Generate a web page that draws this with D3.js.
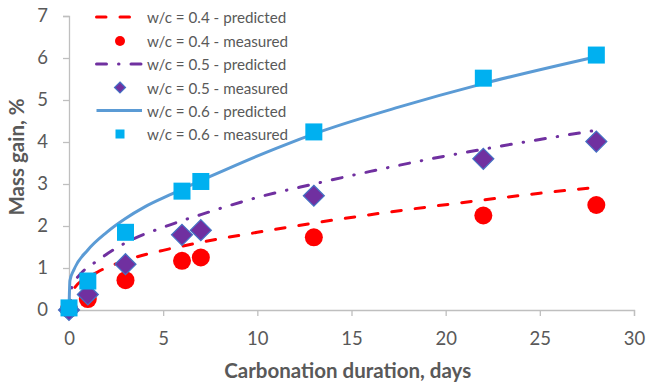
<!DOCTYPE html>
<html>
<head>
<meta charset="utf-8">
<script src="https://cdn.jsdelivr.net/npm/d3@7"></script>
<style>
  body { margin: 0; background: #fff; }
  text { font-family: Lato, "Liberation Sans", sans-serif; }
</style>
</head>
<body>
<div id="chart"></div>
<script>
// measured points
var days = [0, 1, 3, 6, 7, 13, 22, 28];
var meas04 = [0.02, 0.26, 0.71, 1.17, 1.25, 1.73, 2.25, 2.5];
var meas05 = [0, 0.37, 1.09, 1.79, 1.9, 2.72, 3.6, 4.01];
var meas06 = [0.05, 0.69, 1.85, 2.83, 3.06, 4.24, 5.52, 6.07];

// predicted curves
var predT04 = [0, 0.25, 1.5, 3, 5, 7, 10, 13, 16, 19, 22, 25, 28];
var pred04  = [0, 0.5, 0.9, 1.18, 1.42, 1.61, 1.85, 2.07, 2.27, 2.45, 2.62, 2.78, 2.92];
var predT05 = [0, 0.15, 0.6, 1.5, 3, 5, 7, 10, 13, 16, 19, 22, 25, 28];
var pred05  = [0, 0.55, 0.85, 1.17, 1.6, 1.97, 2.27, 2.68, 3.0, 3.3, 3.58, 3.83, 4.06, 4.28];
var predT06 = [0, 0.05, 0.25, 1, 2, 3, 4, 5.5, 7.5, 11, 13.5, 17.5, 22, 28];
var pred06  = [0, 0.7, 0.95, 1.43, 1.85, 2.18, 2.45, 2.77, 3.18, 3.85, 4.27, 4.83, 5.39, 6.03];

var xTicks = [0, 5, 10, 15, 20, 25, 30];
var yTicks = [0, 1, 2, 3, 4, 5, 6, 7];

var W = 646, H = 385;
var margin = {top: 16, right: 12, bottom: 75, left: 69};
var width = W - margin.left - margin.right,
    height = H - margin.top - margin.bottom;

var svg = d3.select("#chart").append("svg")
    .attr("width", W)
    .attr("height", H);
var g = svg.append("g")
    .attr("transform", "translate(" + margin.left + "," + margin.top + ")");

var x = d3.scaleLinear().domain([0, 30]).range([0, width]);
var y = d3.scaleLinear().domain([0, 7]).range([height, 0]);

var axisColor = "#bfbfbf", labelColor = "#595959";

// axes
var xAxis = g.append("g")
    .attr("transform", "translate(0," + height + ")")
    .call(d3.axisBottom(x).tickValues(xTicks).tickFormat(d3.format("d")).tickSize(6).tickPadding(16));
var yAxis = g.append("g")
    .call(d3.axisLeft(y).tickValues(yTicks).tickFormat(d3.format("d")).tickSize(6).tickPadding(15));
[xAxis, yAxis].forEach(function(a) {
    a.select(".domain").attr("stroke", axisColor).attr("stroke-width", 1.3);
    a.selectAll(".tick line").attr("stroke", axisColor).attr("stroke-width", 1.3);
    a.selectAll(".tick text").attr("fill", labelColor)
        .style("font-size", "18.5px");
});

// axis titles
svg.append("text")
    .attr("x", margin.left + x(14.8)).attr("y", 378)
    .attr("text-anchor", "middle")
    .attr("fill", labelColor)
    .style("font-size", "20.5px").style("font-weight", "bold")
    .text("Carbonation duration, days");
svg.append("text")
    .attr("transform", "translate(24," + 157 + ") rotate(-90)")
    .attr("text-anchor", "middle")
    .attr("fill", labelColor)
    .style("font-size", "20.5px").style("font-weight", "bold")
    .text("Mass gain, %");

var line = d3.line()
    .x(function(d) { return x(d[0]); })
    .y(function(d) { return y(d[1]); })
    .curve(d3.curveMonotoneX);

function pairs(a, b) { return a.map(function(v, i) { return [v, b[i]]; }); }

var series = [
    {name: "w/c = 0.4", t: predT04, p: pred04, m: meas04, color: "#ff0000", dash: "9.5,14",
     marker: "circle", mfill: "#ff0000", mstroke: "none"},
    {name: "w/c = 0.5", t: predT05, p: pred05, m: meas05, color: "#7030a0", dash: "10,12,0.5,12",
     marker: "diamond", mfill: "#7030a0", mstroke: "#4472c4"},
    {name: "w/c = 0.6", t: predT06, p: pred06, m: meas06, color: "#5b9bd5", dash: null,
     marker: "square", mfill: "#00b0f0", mstroke: "none"}
];

function drawMarker(sel, type, cx, cy, s, fill, stroke) {
    if (type === "circle") {
        sel.append("circle").attr("cx", cx).attr("cy", cy).attr("r", s / 2)
            .attr("fill", fill);
    } else if (type === "diamond") {
        var r = s / 2;
        sel.append("path")
            .attr("d", "M" + cx + "," + (cy - r) + "L" + (cx + r) + "," + cy +
                  "L" + cx + "," + (cy + r) + "L" + (cx - r) + "," + cy + "Z")
            .attr("fill", fill).attr("stroke", stroke).attr("stroke-width", 1.2);
    } else {
        sel.append("rect").attr("x", cx - s / 2).attr("y", cy - s / 2)
            .attr("width", s).attr("height", s).attr("fill", fill);
    }
}

var markerSize = {circle: 18, diamond: 21, square: 17};

series.forEach(function(s) {
    var p = g.append("path")
        .datum(pairs(s.t, s.p))
        .attr("fill", "none")
        .attr("stroke", s.color)
        .attr("stroke-width", 3)
        .attr("d", line);
    if (s.dash) p.attr("stroke-dasharray", s.dash).attr("stroke-linecap", "round");

    var mg = g.append("g");
    days.forEach(function(d, i) {
        drawMarker(mg, s.marker, x(d), y(s.m[i]), markerSize[s.marker], s.mfill, s.mstroke);
    });
});

// legend
var legend = svg.append("g");
var rowY = [17, 41, 64, 87.5, 110.5, 134];
var legendMarker = {circle: 10, diamond: 11, square: 9};
series.forEach(function(s, i) {
    var y1 = rowY[i * 2], y2 = rowY[i * 2 + 1];
    var l = legend.append("line")
        .attr("x1", 96.5).attr("x2", 142)
        .attr("y1", y1).attr("y2", y1)
        .attr("stroke", s.color).attr("stroke-width", 3);
    if (s.dash) l.attr("stroke-dasharray", s.dash).attr("stroke-linecap", "round");
    legend.append("text").attr("x", 147).attr("y", y1)
        .attr("dominant-baseline", "central")
        .attr("fill", labelColor).style("font-size", "15.2px")
        .text(s.name + " - predicted");
    drawMarker(legend, s.marker, 120, y2, legendMarker[s.marker], s.mfill, s.mstroke);
    legend.append("text").attr("x", 147).attr("y", y2)
        .attr("dominant-baseline", "central")
        .attr("fill", labelColor).style("font-size", "15.2px")
        .text(s.name + " - measured");
});
</script>
</body>
</html>
